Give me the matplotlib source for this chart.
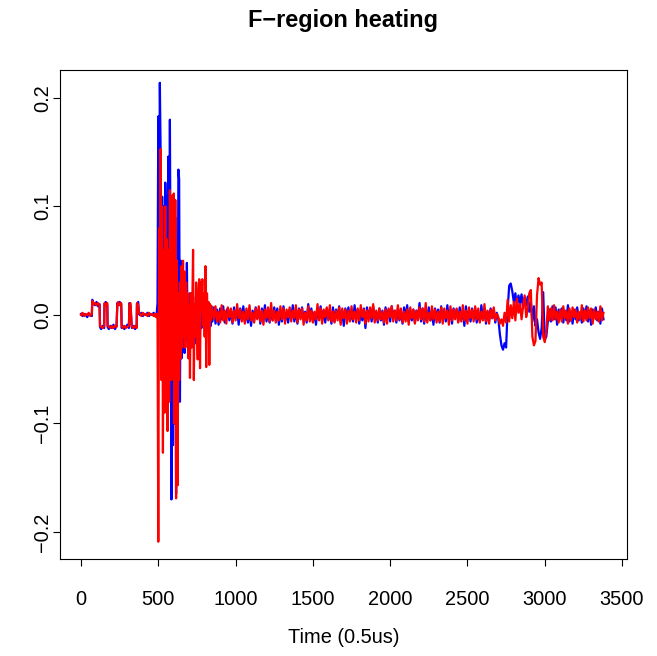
import numpy as np
import matplotlib.pyplot as plt

plt.rcParams['font.family'] = ['Liberation Sans', 'DejaVu Sans']

# values in units of 0.001
# before the burst: step pulses, read as breakpoints
pre_t = [0, 10, 20, 30, 40, 50, 60, 70,
         73, 80, 90, 100, 110, 120,
         123, 130, 140, 150,
         152, 160, 170,
         172, 180, 190, 200, 210, 220, 230,
         235, 240, 250, 260,
         263, 270, 280, 290, 300, 310,
         313, 320,
         328, 330, 340, 350, 360,
         362, 370,
         375, 380, 390, 400, 410, 420, 430, 440, 450, 460, 470, 480]
pre_blue = [1, -1, 1, 0, -2, 1, 0, -1,
            14, 11, 9, 12, 8, 10,
            -11, -13, -10, -12,
            10, 12, 9,
            -11, -13, -10, -12, -9, -13, -10,
            11, 9, 12, 10,
            -12, -10, -13, -11, -9, -12,
            11, 9,
            -11, -12, -10, -13, -11,
            10, 12,
            1, 0, 2, -1, 1, 0, 2, -1, 1, 0, 2, -1]
pre_red = [0, 2, -1, 1, 0, 2, -1, 1,
           13, 10, 11, 9, 11, 9,
           -10, -11, -12, -10,
           11, 9, 11,
           -10, -11, -12, -10, -12, -10, -11,
           10, 12, 9, 11,
           -10, -12, -10, -12, -11, -10,
           10, 11,
           -10, -11, -12, -10, -12,
           11, 9,
           2, 1, -1, 2, 0, 1, -1, 2, 0, 1, -1, 1]

# heating burst, every 5 samples from 485 to 845
burst_blue = [0, 2, 11,
              183, 60, 214, 150, -20, 109, -60, 100, -88, 122,
              30, -90, 80, 146, -50, 180, 20, -170, 60, -120,
              40, -100, 90, -165, 30, -60, 134, 125, -80, 50,
              -40, 40, -30, 20, -35, 30, -20, 48, -25, 15,
              -30, 20, -20, 15, -25, 17, -20, 10, -26, 12,
              -15, 14, -18, 12, -14, 10, -12, 8, -10, 9,
              -8, 10, -9, 8, -7, 9, -8, 6, -10, 7]
burst_red = [-2, 1, -4,
             -209, 80, 0, 153, -60, 100, -127, 60, -90, 100,
             -50, 70, -107, 60, -80, 115, 50, -60, 110, -40,
             112, -100, 106, -169, 50, -157, 20, -60, 30, -40,
             45, -30, 50, -20, 40, -30, 30, -15, 20, -40,
             10, -58, 20, -30, 10, 60, -60, 10, -20, 30,
             -10, -41, 20, 33, -49, 30, 10, 33, -10, 20,
             -20, 45, -48, 20, -10, 12, -46, 10, -5, 8]

# quiet part, every 10 samples from 850 to 3380
quiet_blue = [
    -6, 7, -8, 5, -9, 6, -4, 8, -7, 3,
    6, -5, 4, -8, 7, -3, 5, -9, 6, -4,
    8, -6, 2, -7, 5, -10, 4, -5, 7, -3,
    5, -8, 6, -2, 9, -6, 3, -7, 4, -5,
    7, -4, 6, -9, 3, -6, 8, -5, 2, -7,
    5, -3, 9, -6, 4, -8, 6, -2, 7, -5,
    3, -7, 10, -4, 6, -6, 2, -9, 5, -3,
    8, -5, 4, -7, 6, -4, 3, -8, 7, -6,
    5, -2, 8, -7, 4, -10, 6, -3, 7, -5,
    2, -6, 9, -4, 5, -8, 3, -5, 6, -12,
    7, -3, 5, -6, 8, -4, 2, -7, 6, -5,
    4, -9, 7, -3, 5, -6, 8, -2, 4, -7,
    6, -5, 3, -8, 7, -4, 9, -6, 2, -5,
    5, -7, 4, -3, 11, -6, 6, -8, 3, -4,
    7, -5, 2, -9, 6, -3, 5, -7, 8, -4,
    3, -6, 9, -5, 4, -8, 6, -2, 5, -6,
    7, -4, 3, -10, 8, -5, 4, -6, 6, -3,
    5, -7, 2, -6, 9, -4, 6, -8, 3, -5,
    6, -3, 5, -7, 2,
    # 2700 - 3030
    -4, -18, -28, -32, -26, -30, 5, 27, 29, 22,
    12, 20, 8, 18, 11, 19, 6, 16, 9, 17,
    3, 12, -6, 8, -10, -4, -16, -22, -12, 21,
    -23, -20, -6, 5,
    # 3040 - 3380
    -6, 8, -4, 7, -9, 5, -3, 6, -7, 4,
    -5, 9, -6, 3, -8, 5, -4, 7, -5, 2,
    -7, 6, -3, 8, -6, 4, -9, 5, -2, 7,
    -5, 3, -8, 6, -4]
quiet_red = [
    5, -4, 8, -6, 3, -7, 9, -5, 4, -8,
    7, -2, 6, -7, 4, -5, 10, -3, 5, -6,
    3, -8, 6, -4, 9, -5, 2, -7, 6, -4,
    8, -6, 4, -9, 5, -3, 7, -6, 11, -5,
    4, -7, 3, -5, 8, -4, 6, -8, 5, -2,
    7, -6, 4, -3, 9, -7, 5, -4, 6, -9,
    2, -5, 8, -6, 4, -7, 3, -4, 10, -5,
    6, -8, 5, -2, 7, -5, 9, -6, 3, -7,
    4, -5, 7, -9, 6, -3, 5, -8, 4, -6,
    8, -4, 3, -7, 6, -5, 9, -2, 5, -8,
    4, -6, 7, -3, 10, -7, 4, -5, 6, -4,
    3, -7, 5, -8, 6, -2, 8, -6, 4, -5,
    9, -4, 6, -7, 3, -6, 5, -9, 7, -3,
    5, -8, 4, -5, 7, -4, 6, -6, 11, -7,
    2, -5, 8, -4, 5, -7, 3, -6, 7, -8,
    6, -3, 4, -9, 8, -5, 5, -4, 6, -7,
    3, -6, 9, -5, 4, -8, 7, -3, 5, -6,
    8, -4, 6, -7, 3, -5, 10, -6, 4, -8,
    5, -3, 7, -5, 1,
    # 2700 - 3030
    -2, -8, -4, -10, 2, -7, 14, -6, 9, -3,
    12, -5, 15, 2, 10, -4, 8, 18, -2, 6,
    20, 23, -20, -28, -24, 18, 34, 28, 30, -20,
    -25, -15, 8, -5,
    # 3040 - 3380
    6, -5, 9, -4, 3, -7, 5, -6, 8, -3,
    4, -8, 6, -5, 7, -2, 5, -7, 3, -4,
    9, -6, 4, -5, 7, -3, 6, -8, 5, -4,
    3, -6, 8, -5, 2]

t = np.concatenate([pre_t, np.arange(485, 850, 5), np.arange(850, 3390, 10)])
blue = np.array(pre_blue + burst_blue + quiet_blue) / 1000
red = np.array(pre_red + burst_red + quiet_red) / 1000

fig = plt.figure(figsize = (6.57, 6.56), dpi = 100)
ax = fig.add_axes([0.0913, 0.1479, 0.8630, 0.7454])
ax.plot(t, blue, color = 'blue', lw = 1.6)
ax.plot(t, red, color = 'red', lw = 1.6)
ax.set_xlim(-136, 3532)
ax.set_ylim(-0.2249, 0.2258)
ax.set_xticks(np.arange(0, 3501, 500))
ax.set_yticks([-0.2, -0.1, 0.0, 0.1, 0.2])
ax.set_yticklabels(['\u22120.2', '\u22120.1', '0.0', '0.1', '0.2'])
ax.tick_params(labelsize = 14.4, length = 5, width = 0.8)
ax.tick_params(axis = 'x', pad = 17)
ax.tick_params(axis = 'y', pad = 0.5)
plt.setp(ax.get_yticklabels(), rotation = 90, va = 'center')
for s in ax.spines.values():
    s.set_linewidth(0.8)
ax.set_xlabel('Time (0.5us)', fontsize = 14.4, labelpad = 14)
ax.set_title('F\u2212region heating', fontsize = 16.9, fontweight = 'bold', pad = 31)
fig.savefig('out.png', dpi = 100)
